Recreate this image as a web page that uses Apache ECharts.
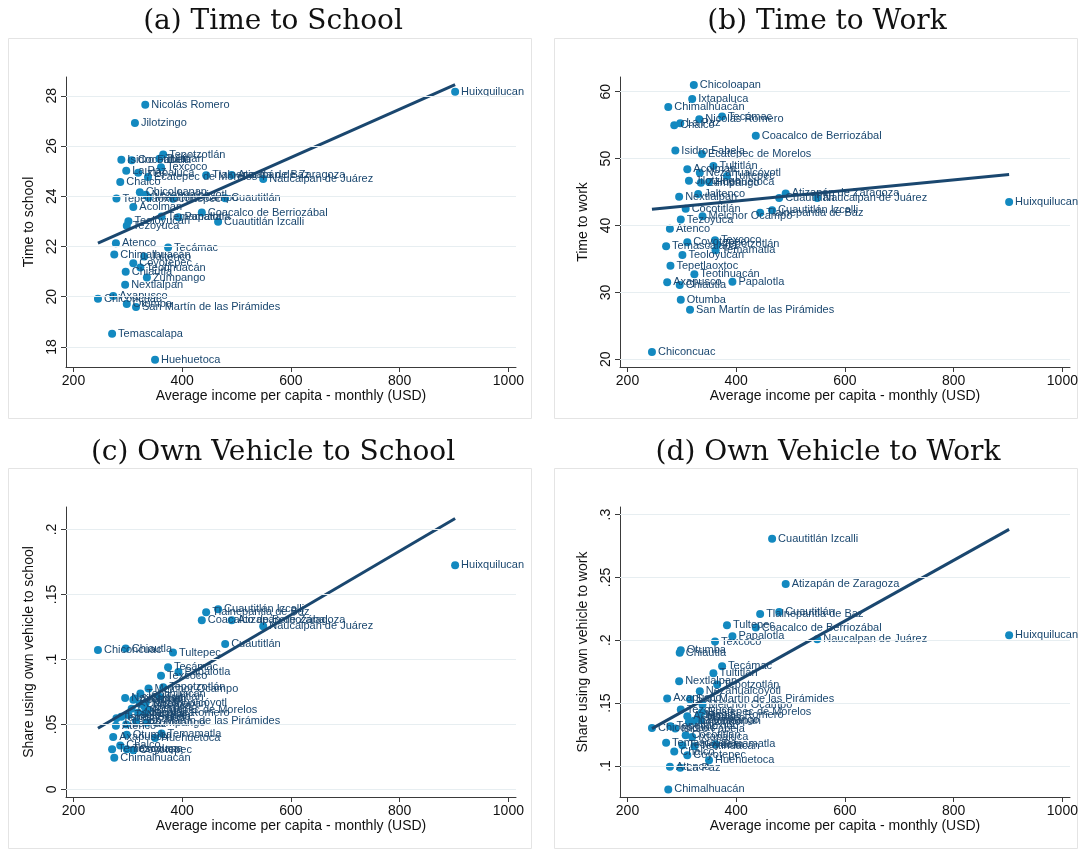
<!DOCTYPE html>
<html>
<head>
<meta charset="utf-8">
<script src="https://cdn.jsdelivr.net/npm/echarts@6/dist/echarts.min.js"></script>
<style>
html, body { margin: 0; padding: 0; background: #ffffff; }
#chart { width: 1083px; height: 850px; }
</style>
</head>
<body>
<div id="chart"></div>
<script>
// Municipalities of the metropolitan area (one entry per dot in every panel)
const municipalities = [
  'Huixquilucan', 'Nicolás Romero', 'Jilotzingo', 'Tepotzotlán', 'Isidro Fabela',
  'Cocotitlán', 'Jaltenco', 'Tultitlán', 'Texcoco', 'La Paz',
  'Ixtapaluca', 'Ecatepec de Morelos', 'Tlalnepantla de Baz', 'Atizapán de Zaragoza', 'Naucalpan de Juárez',
  'Chalco', 'Chicoloapan', 'Tepetlaoxtoc', 'Tultepec', 'Melchor Ocampo',
  'Cuautitlán', 'Acolman', 'Coacalco de Berriozábal', 'Temamatla', 'Papalotla',
  'Cuautitlán Izcalli', 'Teoloyucan', 'Tezoyuca', 'Atenco', 'Tecámac',
  'Chimalhuacán', 'Nezahualcóyotl', 'Coyotepec', 'Teotihuacán', 'Chiautla',
  'Zumpango', 'Nextlalpan', 'Axapusco', 'Chiconcuac', 'Otumba',
  'San Martín de las Pirámides', 'Temascalapa', 'Huehuetoca'
];

// Average income per capita, monthly (USD)
const income = [
  902, 332, 313, 365, 288,
  307, 330, 358, 361, 297,
  319, 337, 444, 491, 549,
  286, 322, 279, 383, 338,
  479, 310, 436, 362, 393,
  466, 301, 298, 278, 374,
  275, 333, 310, 323, 296,
  335, 295, 273, 245, 298,
  315, 271, 350
];

// Time to school (minutes)
const timeToSchool = [
  28.16, 27.64, 26.92, 25.66, 25.45,
  25.43, 21.60, 25.49, 25.16, 25.02,
  24.94, 24.77, 24.84, 24.85, 24.69,
  24.57, 24.16, 23.91, 23.90, 23.95,
  23.92, 23.57, 23.35, 23.19, 23.16,
  22.98, 23.00, 22.83, 22.13, 21.96,
  21.68, 24.06, 21.33, 21.16, 20.99,
  20.76, 20.48, 20.03, 19.92, 19.71,
  19.59, 18.52, 17.49
];

// Time to work (minutes)
const timeToWork = [
  43.5, 55.9, 46.7, 37.2, 51.2,
  42.5, 44.7, 48.9, 37.8, 55.3,
  58.9, 50.7, 41.9, 44.8, 44.1,
  55.0, 61.0, 34.0, 47.4, 41.4,
  44.1, 48.4, 53.4, 36.3, 31.6,
  42.3, 35.6, 40.9, 39.5, 56.3,
  57.7, 47.9, 37.5, 32.7, 31.1,
  46.4, 44.3, 31.5, 21.1, 28.9,
  27.4, 36.9, 46.5
];

// Share using own vehicle to school
const vehicleSchool = [
  0.1724, 0.0588, 0.0700, 0.0787, 0.0560,
  0.0620, 0.0640, 0.0713, 0.0875, 0.0500,
  0.0590, 0.0614, 0.1363, 0.1302, 0.1256,
  0.0339, 0.0660, 0.0547, 0.1053, 0.0776,
  0.1119, 0.0690, 0.1302, 0.0430, 0.0903,
  0.1386, 0.0573, 0.0310, 0.0490, 0.0940,
  0.0243, 0.0669, 0.0301, 0.0738, 0.1084,
  0.0515, 0.0703, 0.0403, 0.1073, 0.0420,
  0.0525, 0.0309, 0.0395
];

// Share using own vehicle to work
const vehicleWork = [
  0.2040, 0.1404, 0.1350, 0.1648, 0.1298,
  0.1245, 0.1385, 0.1738, 0.1990, 0.0985,
  0.1231, 0.1430, 0.2209, 0.2448, 0.2008,
  0.1115, 0.1360, 0.1316, 0.2119, 0.1489,
  0.2225, 0.1395, 0.2101, 0.1173, 0.2032,
  0.2808, 0.1165, 0.1449, 0.0993, 0.1793,
  0.0813, 0.1595, 0.1086, 0.1157, 0.1900,
  0.1364, 0.1674, 0.1537, 0.1302, 0.1920,
  0.1530, 0.1184, 0.1046
];

// Axis tick values
const incomeTicks = [200, 400, 600, 800, 1000];
const schoolTimeTicks = [18, 20, 22, 24, 26, 28];
const workTimeTicks = [20, 30, 40, 50, 60];
const vehicleSchoolTicks = [0, 0.05, 0.1, 0.15, 0.2];
const vehicleWorkTicks = [0.1, 0.15, 0.2, 0.25, 0.3];

const DOT = '#1389c0';
const NAVY = '#1a476f';
const AXIS = '#3a3a3a';
const GRID = '#e7eef1';
const SANS = '"Liberation Sans", Arial, sans-serif';
const SERIF = '"DejaVu Serif", "Liberation Serif", serif';

// Ordinary least squares fit across the range of x
function linearFit(xs, ys) {
  const n = xs.length;
  const mx = xs.reduce((s, v) => s + v, 0) / n;
  const my = ys.reduce((s, v) => s + v, 0) / n;
  let sxy = 0, sxx = 0;
  for (let i = 0; i < n; i++) {
    sxy += (xs[i] - mx) * (ys[i] - my);
    sxx += (xs[i] - mx) * (xs[i] - mx);
  }
  const b = sxy / sxx;
  const a = my - b * mx;
  const lo = Math.min(...xs), hi = Math.max(...xs);
  return [[lo, a + b * lo], [hi, a + b * hi]];
}

// Stata-style numbers: no leading zero, no thousands separator
function stataNumber(v) {
  if (v === 0) return '0';
  return String(+v.toFixed(3)).replace(/^0\./, '.');
}

const panels = [
  { title: '(a) Time to School', titleX: 268, titleTop: 3, values: timeToSchool, ticks: schoolTimeTicks,
    yName: 'Time to school', left: 66, top: 77, yMin: 17.2, yMax: 28.75, frame: [8, 38, 523, 380] },
  { title: '(b) Time to Work', titleX: 822, titleTop: 3, values: timeToWork, ticks: workTimeTicks,
    yName: 'Time to work', left: 620, top: 77, yMin: 18.85, yMax: 62.2, frame: [554, 38, 523, 380] },
  { title: '(c) Own Vehicle to School', titleX: 268, titleTop: 434, values: vehicleSchool, ticks: vehicleSchoolTicks,
    yName: 'Share using own vehicle to school', left: 66, top: 507, yMin: -0.0058, yMax: 0.2173, frame: [8, 468, 523, 380] },
  { title: '(d) Own Vehicle to Work', titleX: 823, titleTop: 434, values: vehicleWork, ticks: vehicleWorkTicks,
    yName: 'Share using own vehicle to work', left: 620, top: 507, yMin: 0.0753, yMax: 0.306, frame: [554, 468, 523, 380] }
];

const option = {
  animation: false,
  backgroundColor: '#ffffff',
  title: panels.map(p => ({
    text: p.title, left: p.titleX, top: p.titleTop, textAlign: 'center',
    textStyle: { fontFamily: SERIF, fontSize: 28, fontWeight: 'normal', color: '#111111' }
  })),
  graphic: panels.map(p => ({
    type: 'rect', silent: true, z: -10,
    shape: { x: p.frame[0] + 0.5, y: p.frame[1] + 0.5, width: p.frame[2], height: p.frame[3] },
    style: { fill: '#ffffff', stroke: '#e4e4e4', lineWidth: 1 }
  })),
  grid: panels.map(p => ({ left: p.left, top: p.top, width: 450, height: 290 })),
  xAxis: panels.map((p, i) => ({
    type: 'value', gridIndex: i, min: 186.2, max: 1014,
    name: 'Average income per capita - monthly (USD)', nameLocation: 'middle', nameGap: 21,
    nameTextStyle: { fontFamily: SANS, fontSize: 14, color: '#111111' },
    axisLine: { show: true, onZero: false, lineStyle: { color: AXIS, width: 1 } },
    axisTick: { show: true, length: 5, customValues: incomeTicks, lineStyle: { color: AXIS } },
    axisLabel: { customValues: incomeTicks, margin: 7, fontFamily: SANS, fontSize: 14, color: '#111111',
      formatter: v => stataNumber(v) },
    splitLine: { show: false }
  })),
  yAxis: panels.map((p, i) => ({
    type: 'value', gridIndex: i, min: p.yMin, max: p.yMax,
    name: p.yName, nameLocation: 'middle', nameGap: 30, nameRotate: 90,
    nameTextStyle: { fontFamily: SANS, fontSize: 14, color: '#111111' },
    axisLine: { show: true, onZero: false, lineStyle: { color: AXIS, width: 1 } },
    axisTick: { show: true, length: 5, customValues: p.ticks, lineStyle: { color: AXIS } },
    axisLabel: { customValues: p.ticks, rotate: 90, margin: 7, fontFamily: SANS, fontSize: 14, color: '#111111',
      formatter: v => stataNumber(v) },
    splitLine: { show: false }
  })),
  series: []
};

panels.forEach((p, i) => {
  // horizontal grid lines at the tick values
  option.series.push({
    type: 'line', xAxisIndex: i, yAxisIndex: i, data: [], z: 1, silent: true,
    markLine: {
      silent: true, symbol: ['none', 'none'], label: { show: false },
      lineStyle: { color: GRID, width: 1.2, type: 'solid' },
      data: p.ticks.map(v => ({ yAxis: v }))
    }
  });
  // municipalities
  option.series.push({
    type: 'scatter', xAxisIndex: i, yAxisIndex: i, z: 3,
    symbol: 'circle', symbolSize: 8,
    itemStyle: { color: DOT, opacity: 1 },
    label: { show: true, position: 'right', distance: 2, formatter: '{b}',
      fontFamily: SANS, fontSize: 11, color: NAVY },
    data: municipalities.map((name, k) => ({ name: name, value: [income[k], p.values[k]] }))
  });
  // fitted line
  option.series.push({
    type: 'line', xAxisIndex: i, yAxisIndex: i, z: 4, silent: true,
    symbol: 'none', lineStyle: { color: NAVY, width: 3 },
    data: linearFit(income, p.values)
  });
});

const chart = echarts.init(document.getElementById('chart'), null, { renderer: 'canvas' });
chart.setOption(option);
</script>
</body>
</html>
